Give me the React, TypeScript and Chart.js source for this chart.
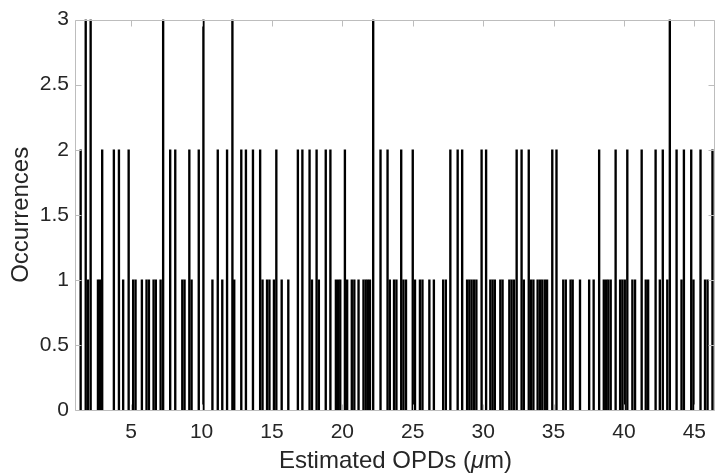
import React, { useEffect, useRef } from 'react';
import { Chart, registerables } from 'chart.js';

Chart.register(...registerables);

// Estimated OPD bin positions (µm) and occurrence counts
const opdCenters = [
  1.41, 1.77, 1.93, 2.12, 2.64, 2.78, 2.94, 3.77, 4.13, 4.43,
  4.82, 5.14, 5.31, 5.76, 6.09, 6.26, 6.59, 6.75, 7.09, 7.27,
  7.77, 8.13, 8.63, 8.79, 9.13, 9.29, 9.80, 10.13, 10.77, 11.15,
  11.47, 11.81, 12.19, 12.32, 12.82, 13.15, 13.65, 14.16, 14.33, 14.65,
  14.82, 15.14, 15.31, 15.69, 16.16, 16.84, 17.16, 17.67, 17.84, 18.17,
  18.33, 18.82, 19.15, 19.54, 19.70, 19.85, 20.18, 20.34, 20.67, 20.85,
  21.15, 21.50, 21.66, 21.81, 21.96, 22.19, 22.71, 23.21, 23.37, 23.67,
  23.84, 24.18, 24.34, 24.52, 25.00, 25.16, 25.51, 25.69, 26.18, 26.50,
  27.16, 27.35, 27.67, 28.19, 28.51, 28.86, 29.02, 29.18, 29.35, 29.52,
  29.89, 30.21, 30.51, 30.67, 30.83, 31.22, 31.38, 31.86, 32.02, 32.19,
  32.38, 32.73, 32.89, 33.24, 33.40, 33.57, 33.87, 34.04, 34.20, 34.38,
  34.54, 34.91, 35.21, 35.69, 35.87, 36.21, 36.36, 36.88, 37.53, 37.85,
  38.24, 38.57, 38.74, 38.89, 39.06, 39.41, 39.73, 39.89, 40.06, 40.24,
  40.60, 40.79, 41.26, 41.55, 41.72, 42.25, 42.55, 42.76, 43.08, 43.26,
  43.74, 44.09, 44.26, 44.78, 44.94, 45.44, 45.76, 45.94, 46.29,
];

const occurrences = [
  2, 3, 1, 3, 1, 1, 2, 2, 2, 1,
  2, 1, 1, 1, 1, 1, 1, 1, 1, 3,
  2, 2, 1, 1, 2, 1, 2, 3, 1, 2,
  1, 2, 3, 1, 2, 2, 2, 2, 1, 1,
  1, 1, 2, 1, 1, 2, 2, 2, 1, 2,
  1, 2, 2, 1, 1, 1, 2, 1, 1, 1,
  1, 1, 1, 1, 1, 3, 2, 2, 1, 1,
  1, 2, 1, 1, 2, 1, 1, 1, 1, 1,
  1, 1, 2, 2, 2, 1, 1, 1, 1, 1,
  2, 2, 1, 1, 1, 1, 1, 1, 1, 1,
  2, 2, 1, 2, 1, 1, 1, 1, 1, 1,
  1, 2, 2, 1, 1, 1, 1, 1, 1, 1,
  2, 1, 1, 1, 1, 2, 1, 1, 1, 2,
  1, 1, 2, 1, 1, 2, 1, 2, 1, 3,
  2, 1, 2, 2, 1, 2, 1, 1, 2,
];

const xTickValues = [5, 10, 15, 20, 25, 30, 35, 40, 45];
const yTickValues = [0, 0.5, 1, 1.5, 2, 2.5, 3];
const xMin = 1.08;
const xMax = 46.47;
const yMin = 0;
const yMax = 3;
const xTitleParts = ['Estimated OPDs (', '\u03bc', 'm)'];
const yTitle = 'Occurrences';

const FONT = '"Liberation Sans", Arial, Helvetica, sans-serif';
const TEXT = '#262626';
const AXIS = '#bdbdbd';

const framePlugin = {
  id: 'matlabFrame',
  afterDraw(chart: any) {
    const { ctx, chartArea: a, scales } = chart;
    const xs = scales.x;
    const ys = scales.y;
    ctx.save();
    ctx.strokeStyle = AXIS;
    ctx.lineWidth = 1;
    const L = Math.round(a.left) - 0.5;
    const R = Math.round(a.right) - 0.5;
    const T = Math.round(a.top) + 0.5;
    const B = Math.round(a.bottom) + 0.5;
    ctx.beginPath();
    ctx.moveTo(L, T);
    ctx.lineTo(R, T);
    ctx.lineTo(R, B);
    ctx.lineTo(L, B);
    ctx.closePath();
    ctx.stroke();
    const tl = 6;
    ctx.beginPath();
    for (const v of xTickValues) {
      const px = Math.round(xs.getPixelForValue(v)) + 0.5;
      ctx.moveTo(px, B);
      ctx.lineTo(px, B - tl);
      ctx.moveTo(px, T);
      ctx.lineTo(px, T + tl);
    }
    for (const v of yTickValues) {
      const py = Math.round(ys.getPixelForValue(v)) + 0.5;
      ctx.moveTo(L, py);
      ctx.lineTo(L + tl, py);
      ctx.moveTo(R, py);
      ctx.lineTo(R - tl, py);
    }
    ctx.stroke();

    // x axis title with italic mu
    ctx.fillStyle = TEXT;
    ctx.textBaseline = 'middle';
    ctx.textAlign = 'left';
    const size = 24;
    const normal = `${size}px ${FONT}`;
    const italic = `italic ${size}px ${FONT}`;
    const fonts = [normal, italic, normal];
    let total = 0;
    const widths = xTitleParts.map((t, i) => {
      ctx.font = fonts[i];
      const w = ctx.measureText(t).width;
      total += w;
      return w;
    });
    let cx = (a.left + a.right) / 2 - total / 2;
    const cy = 461;
    xTitleParts.forEach((t, i) => {
      ctx.font = fonts[i];
      ctx.fillText(t, cx, cy);
      cx += widths[i];
    });

    // y axis title
    ctx.font = normal;
    ctx.textAlign = 'center';
    ctx.translate(21, (a.top + a.bottom) / 2);
    ctx.rotate(-Math.PI / 2);
    ctx.fillText(yTitle, 0, 0);
    ctx.restore();
  },
};

export default function App() {
  const canvasRef = useRef<HTMLCanvasElement | null>(null);

  useEffect(() => {
    const canvas = canvasRef.current;
    if (!canvas) return;
    const data = opdCenters.map((x, i) => ({ x, y: occurrences[i] }));
    const chart = new Chart(canvas, {
      type: 'bar',
      data: {
        datasets: [
          {
            data: data as any,
            backgroundColor: '#000000',
            borderWidth: 0,
            barThickness: 1.7,
            grouped: false,
          } as any,
        ],
      },
      options: {
        responsive: false,
        animation: false,
        devicePixelRatio: 1,
        layout: { padding: { top: 17, right: 0, left: 0, bottom: 0 } },
        plugins: {
          legend: { display: false },
          tooltip: { enabled: false },
          title: { display: false },
        },
        scales: {
          x: {
            type: 'linear',
            min: xMin,
            max: xMax,
            offset: false,
            grid: { display: false, drawTicks: false },
            border: { display: false },
            afterBuildTicks: (scale: any) => {
              scale.ticks = xTickValues.map((v) => ({ value: v }));
            },
            afterFit: (scale: any) => {
              scale.height = 64;
            },
            ticks: {
              autoSkip: false,
              maxRotation: 0,
              padding: 10,
              color: TEXT,
              font: { family: FONT, size: 21 },
              callback: (v: any) => String(v),
            },
          },
          y: {
            type: 'linear',
            min: yMin,
            max: yMax,
            grid: { display: false, drawTicks: false },
            border: { display: false },
            afterBuildTicks: (scale: any) => {
              scale.ticks = yTickValues.map((v) => ({ value: v }));
            },
            afterFit: (scale: any) => {
              scale.width = 76;
            },
            ticks: {
              padding: 7,
              color: TEXT,
              font: { family: FONT, size: 21 },
              callback: (v: any) => String(v),
            },
          },
        },
      },
      plugins: [framePlugin],
    });
    return () => chart.destroy();
  }, []);

  return (
    <div style={{ position: 'fixed', left: 0, top: 0, width: 716, height: 474, background: '#fff' }}>
      <canvas ref={canvasRef} width={716} height={474} style={{ width: 716, height: 474, display: 'block' }} />
    </div>
  );
}
